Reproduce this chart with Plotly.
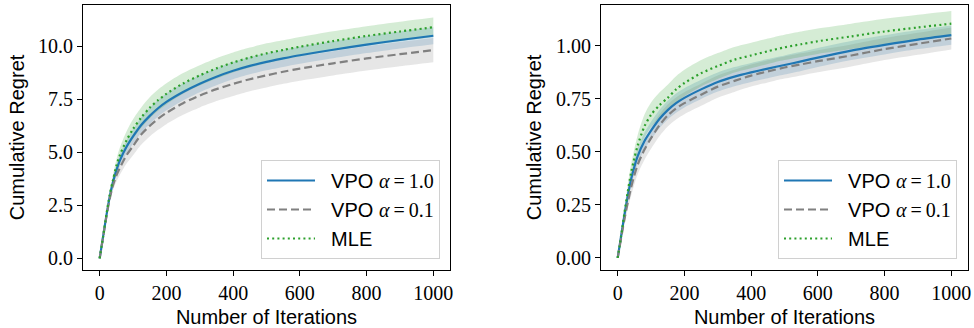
import plotly.graph_objects as go

# ---------------- data ----------------
iters = [0, 10, 20, 30, 40, 50, 60, 80, 100, 125, 150, 175, 200, 250, 300, 350, 400,
         450, 500, 550, 600, 700, 800, 900, 1000]

left_vpo1 = [0, 1.0, 2.0, 2.9, 3.6, 4.15, 4.6, 5.25, 5.75, 6.3, 6.72, 7.08, 7.38, 7.85, 8.24, 8.57, 8.85,
             9.08, 9.27, 9.43, 9.58, 9.84, 10.08, 10.3, 10.5]
left_vpo01 = [0, 0.98, 1.95, 2.8, 3.45, 3.9, 4.25, 4.85, 5.3, 5.85, 6.25, 6.58, 6.86, 7.32, 7.68, 7.98, 8.23,
              8.45, 8.63, 8.8, 8.95, 9.2, 9.43, 9.63, 9.82]
left_mle = [0, 1.0, 2.05, 3.0, 3.7, 4.35, 4.85, 5.55, 6.1, 6.65, 7.1, 7.46, 7.76, 8.25, 8.63, 8.96, 9.24,
            9.47, 9.67, 9.83, 9.98, 10.25, 10.49, 10.7, 10.9]
left_vpo1_sd = [0, 0.05, 0.1, 0.15, 0.2, 0.24, 0.27, 0.31, 0.34, 0.36, 0.38, 0.39, 0.4, 0.4, 0.4, 0.4, 0.4,
                0.4, 0.4, 0.4, 0.4, 0.4, 0.4, 0.4, 0.4]
left_vpo01_sd = [0, 0.06, 0.12, 0.18, 0.24, 0.29, 0.33, 0.39, 0.44, 0.48, 0.5, 0.52, 0.53, 0.55, 0.56, 0.56, 0.57,
                 0.57, 0.57, 0.57, 0.57, 0.57, 0.57, 0.57, 0.57]
left_mle_sd = [0, 0.06, 0.12, 0.18, 0.25, 0.3, 0.35, 0.42, 0.46, 0.48, 0.5, 0.5, 0.5, 0.49, 0.48, 0.48, 0.47,
               0.47, 0.47, 0.46, 0.46, 0.46, 0.46, 0.46, 0.46]

right_vpo1 = [0, 0.1, 0.2, 0.29, 0.37, 0.43, 0.48, 0.55, 0.6, 0.655, 0.697, 0.73, 0.755, 0.795, 0.83, 0.855, 0.875,
              0.893, 0.91, 0.927, 0.945, 0.978, 1.005, 1.03, 1.051]
right_vpo01 = [0, 0.09, 0.18, 0.26, 0.33, 0.39, 0.44, 0.51, 0.565, 0.625, 0.672, 0.705, 0.73, 0.77, 0.808, 0.835, 0.86,
               0.88, 0.898, 0.913, 0.928, 0.955, 0.985, 1.01, 1.035]
right_mle = [0, 0.1, 0.21, 0.31, 0.4, 0.47, 0.53, 0.62, 0.675, 0.72, 0.755, 0.795, 0.825, 0.871, 0.905, 0.935, 0.955,
             0.975, 0.993, 1.008, 1.022, 1.045, 1.068, 1.087, 1.105]
right_vpo1_sd = [0, 0.01, 0.02, 0.025, 0.03, 0.034, 0.037, 0.04, 0.042, 0.043, 0.044, 0.045, 0.045, 0.045, 0.045, 0.045,
                 0.045, 0.045, 0.045, 0.045, 0.045, 0.045, 0.045, 0.045, 0.045]
right_vpo01_sd = [0, 0.012, 0.024, 0.032, 0.038, 0.042, 0.045, 0.048, 0.05, 0.051, 0.052, 0.052, 0.052, 0.052, 0.052,
                  0.052, 0.052, 0.052, 0.052, 0.052, 0.052, 0.052, 0.052, 0.052, 0.052]
right_mle_sd = [0, 0.012, 0.024, 0.032, 0.04, 0.045, 0.05, 0.055, 0.058, 0.06, 0.062, 0.062, 0.062, 0.062, 0.061, 0.06,
                0.06, 0.06, 0.06, 0.06, 0.06, 0.06, 0.06, 0.06, 0.06]

x_ticks = [0, 200, 400, 600, 800, 1000]
left_y_ticks = [0.0, 2.5, 5.0, 7.5, 10.0]
right_y_ticks = [0.0, 0.25, 0.5, 0.75, 1.0]

# ---------------- styling ----------------
BLUE = "#1f77b4"
GRAY = "#808080"
GREEN = "#2ca02c"
SANS = "Liberation Sans, Arial, sans-serif"
SERIF = "Liberation Serif, DejaVu Serif, serif"
PAD = "\u00a0\u00a0"


def vpo_label(val):
    return (PAD + "VPO <span style='font-family:Liberation Serif'><i>α</i>\u2009=\u2009" + val + "</span>")


series_specs = [
    (BLUE, "solid", "rgba(31,119,180,0.2)", vpo_label("1.0")),
    (GRAY, "8px,4px", "rgba(128,128,128,0.2)", vpo_label("0.1")),
    (GREEN, "2px,3.2px", "rgba(44,160,44,0.2)", PAD + "MLE"),
]

fig = go.Figure()

panels = [
    ("x", "y", "legend", [left_vpo1, left_vpo01, left_mle], [left_vpo1_sd, left_vpo01_sd, left_mle_sd]),
    ("x2", "y2", "legend2", [right_vpo1, right_vpo01, right_mle], [right_vpo1_sd, right_vpo01_sd, right_mle_sd]),
]

SM = 0.8
for xa, ya, leg, means, sds in panels:
    for (col, dash, fillc, name), m, s in zip(series_specs, means, sds):
        up = [a + b for a, b in zip(m, s)]
        lo = [a - b for a, b in zip(m, s)]
        fig.add_trace(go.Scatter(x=iters, y=up, mode="lines", line=dict(width=0, shape="spline", smoothing=SM),
                                 showlegend=False, hoverinfo="skip", xaxis=xa, yaxis=ya))
        fig.add_trace(go.Scatter(x=iters, y=lo, mode="lines", line=dict(width=0, shape="spline", smoothing=SM),
                                 fill="tonexty", fillcolor=fillc, showlegend=False, hoverinfo="skip",
                                 xaxis=xa, yaxis=ya))
    for (col, dash, fillc, name), m in zip(series_specs, means):
        fig.add_trace(go.Scatter(x=iters, y=m, mode="lines", name=name,
                                 line=dict(color=col, width=2.2, dash=dash, shape="spline", smoothing=SM),
                                 xaxis=xa, yaxis=ya, legend=leg))

W, H = 974, 328
ydom = [1 - 270 / H, 1 - 5 / H]

axis_common = dict(showline=True, mirror=True, linecolor="black", linewidth=1,
                   ticks="outside", ticklen=5, tickwidth=1, tickcolor="black",
                   showgrid=False, zeroline=False, automargin=False,
                   tickfont=dict(family=SERIF, size=20, color="black"))
title_font = dict(family=SANS, size=20, color="black")
legend_common = dict(xanchor="right", yanchor="bottom", traceorder="normal",
                     bgcolor="rgba(255,255,255,0.8)", bordercolor="#d0d0d0", borderwidth=1,
                     font=dict(family=SANS, size=20, color="black"), itemwidth=48, tracegroupgap=0)

fig.update_layout(
    width=W, height=H,
    margin=dict(l=0, r=0, t=0, b=0),
    paper_bgcolor="white", plot_bgcolor="white",
    xaxis=dict(domain=[83 / W, 450 / W], range=[-50, 1050], tickvals=x_ticks, anchor="y",
               title=dict(text="Number of Iterations", font=title_font, standoff=6), **axis_common),
    yaxis=dict(domain=ydom, range=[-0.55, 11.95], tickvals=left_y_ticks, tickformat=".1f", anchor="x",
               title=dict(text="Cumulative Regret", font=title_font, standoff=8), **axis_common),
    xaxis2=dict(domain=[601 / W, 968 / W], range=[-50, 1050], tickvals=x_ticks, anchor="y2",
                title=dict(text="Number of Iterations", font=title_font, standoff=6), **axis_common),
    yaxis2=dict(domain=ydom, range=[-0.057, 1.193], tickvals=right_y_ticks, tickformat=".2f", anchor="x2",
                title=dict(text="Cumulative Regret", font=title_font, standoff=9), **axis_common),
    legend=dict(x=440 / W, y=1 - 259 / H, **legend_common),
    legend2=dict(x=957 / W, y=1 - 259 / H, **legend_common),
)

fig.write_html("out.html", config={"displayModeBar": False},
               post_script="document.body.style.margin='0px';")
